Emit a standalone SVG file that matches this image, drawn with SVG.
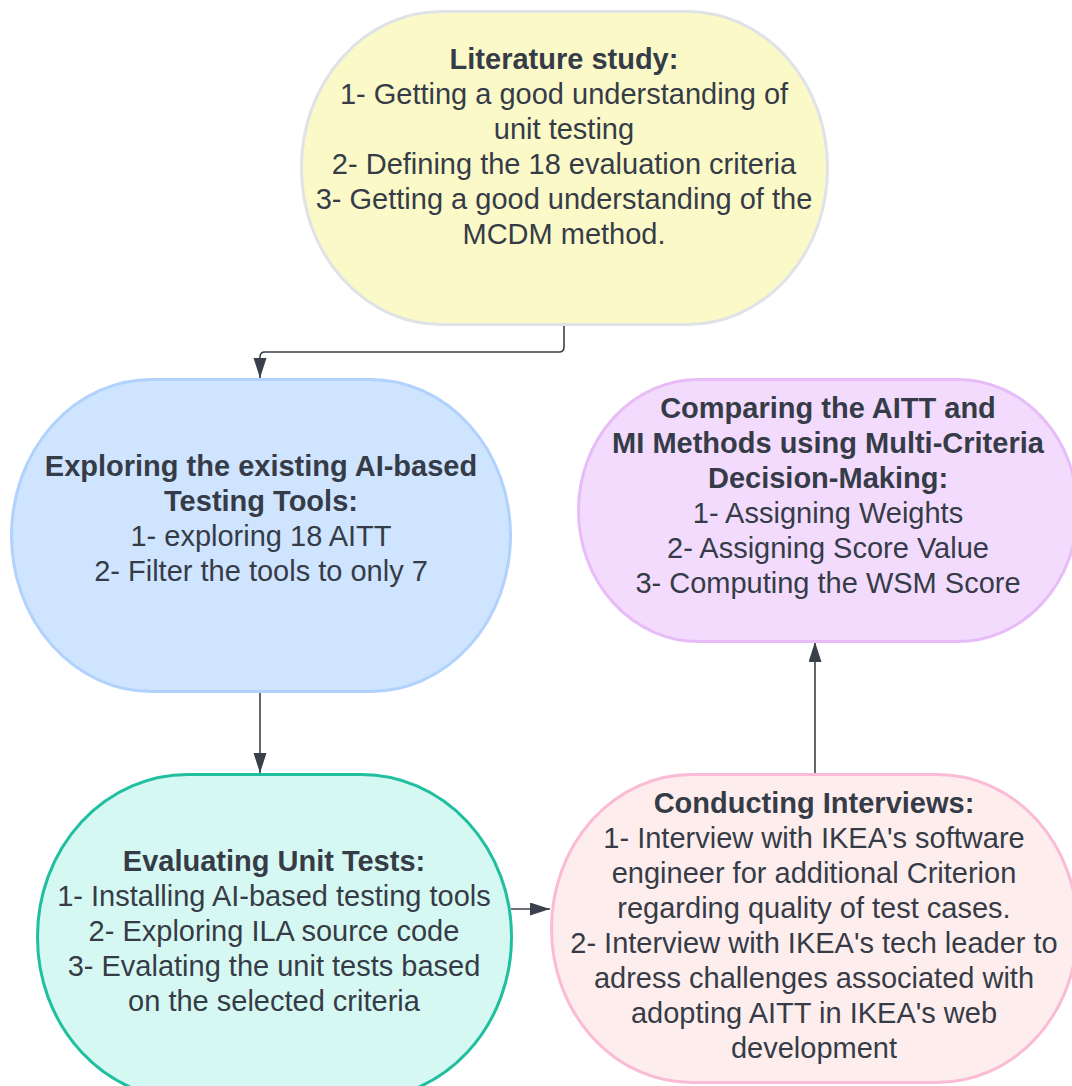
<svg xmlns="http://www.w3.org/2000/svg" width="1072" height="1086" viewBox="0 0 1072 1086">
<style>
  .t { font-family: "Liberation Sans", Arial, sans-serif; font-size: 29px; fill: #363c47; text-anchor: middle; }
  .b { font-weight: bold; }
  .shape { stroke-width: 3; }
  .conn { fill: none; stroke: #3a404b; stroke-width: 1.6; }
</style>
<defs>
  <marker id="arrow" markerUnits="userSpaceOnUse" markerWidth="21" markerHeight="14" refX="20" refY="6.5" orient="auto">
    <path d="M0,0 L20,6.5 L0,13 Z" fill="#3a404b"/>
  </marker>
</defs>
<rect width="1072" height="1086" fill="#ffffff"/>

<g id="connectors">
  <path class="conn" d="M564,326 V347 Q564,352 559,352 H265 Q260,352 260,357 V378" marker-end="url(#arrow)"/>
  <path class="conn" d="M260,692 V773" marker-end="url(#arrow)"/>
  <path class="conn" d="M511,909 H550" marker-end="url(#arrow)"/>
  <path class="conn" d="M815,775 V642" marker-end="url(#arrow)"/>
</g>

<g id="literature">
  <rect class="shape" x="301.5" y="11.5" width="526" height="313" rx="140" ry="156" fill="#fbf9c8" stroke="#dfe2e7"/>
  <text class="t b" x="564" y="69">Literature study:</text>
  <text class="t" x="564" y="104">1- Getting a good understanding of</text>
  <text class="t" x="564" y="139">unit testing</text>
  <text class="t" x="564" y="174">2- Defining the 18 evaluation criteria</text>
  <text class="t" x="564" y="209">3- Getting a good understanding of the</text>
  <text class="t" x="564" y="244">MCDM method.</text>
</g>

<g id="exploring">
  <rect class="shape" x="11.5" y="379.5" width="499" height="312" rx="140" ry="156" fill="#cfe4ff" stroke="#b0d2fc"/>
  <text class="t b" x="261" y="476">Exploring the existing AI-based</text>
  <text class="t b" x="261" y="511">Testing Tools:</text>
  <text class="t" x="261" y="546">1- exploring 18 AITT</text>
  <text class="t" x="261" y="581">2- Filter the tools to only 7</text>
</g>

<g id="comparing">
  <rect class="shape" x="578.5" y="379.5" width="499" height="262" rx="120" ry="131" fill="#f2dbfd" stroke="#e7bcf7"/>
  <text class="t b" x="828" y="418">Comparing the AITT and</text>
  <text class="t b" x="828" y="453">MI Methods using Multi-Criteria</text>
  <text class="t b" x="828" y="488">Decision-Making:</text>
  <text class="t" x="828" y="523">1- Assigning Weights</text>
  <text class="t" x="828" y="558">2- Assigning Score Value</text>
  <text class="t" x="828" y="593">3- Computing the WSM Score</text>
</g>

<g id="evaluating">
  <rect class="shape" x="37.5" y="774.5" width="474" height="325" rx="150" ry="162" fill="#d6f8f2" stroke="#1fbf9f"/>
  <text class="t b" x="274" y="871">Evaluating Unit Tests:</text>
  <text class="t" x="274" y="906">1- Installing AI-based testing tools</text>
  <text class="t" x="274" y="941">2- Exploring ILA source code</text>
  <text class="t" x="274" y="976">3- Evalating the unit tests based</text>
  <text class="t" x="274" y="1011">on the selected criteria</text>
</g>

<g id="interviews">
  <rect class="shape" x="551.5" y="774.5" width="526" height="308" rx="140" ry="154" fill="#feeded" stroke="#fbbad5"/>
  <text class="t b" x="814" y="813">Conducting Interviews:</text>
  <text class="t" x="814" y="848">1- Interview with IKEA's software</text>
  <text class="t" x="814" y="883">engineer for additional Criterion</text>
  <text class="t" x="814" y="918">regarding quality of test cases.</text>
  <text class="t" x="814" y="953">2- Interview with IKEA's tech leader to</text>
  <text class="t" x="814" y="988">adress challenges associated with</text>
  <text class="t" x="814" y="1023">adopting AITT in IKEA's web</text>
  <text class="t" x="814" y="1058">development</text>
</g>
</svg>
